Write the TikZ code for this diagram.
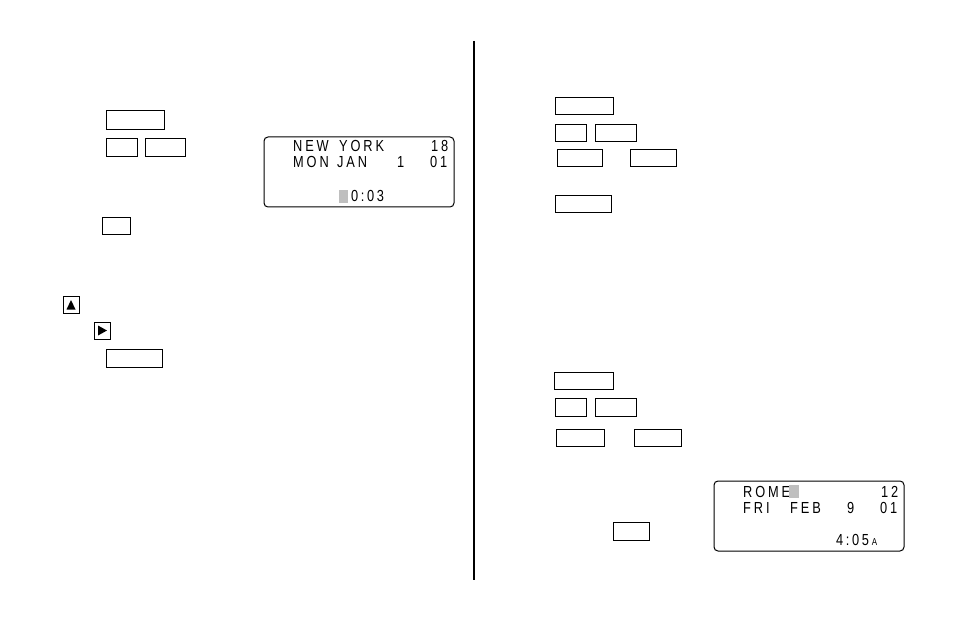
\documentclass[tikz,border=0pt]{standalone}
\usepackage{fontspec}
\setmainfont{Liberation Sans}[LetterSpace=18,FakeStretch=0.8]
\begin{document}
\begin{tikzpicture}[x=1pt,y=-1pt,
 key/.style={draw,line width=0.8pt},
 disp/.style={draw,line width=1pt,rounded corners=4pt},
 lcd/.style={anchor=base west,inner sep=0pt,font=\fontsize{16}{16}\selectfont},
 cur/.style={fill=black!25}]
\useasboundingbox (0,0) rectangle (954,623);
\draw[line width=2pt] (474,41) -- (474,580);
% left keys
\draw[key] (106,110) rectangle (164,129);
\draw[key] (106,138) rectangle (137,156);
\draw[key] (145,138) rectangle (185,156);
\draw[key] (102,217) rectangle (130,234);
\draw[key] (63,296) rectangle (79,313);
\fill (66.5,309.5) -- (75.5,309.5) -- (71,300) -- cycle;
\draw[key] (94,322) rectangle (110,339);
\fill (98,325.5) -- (98,335.5) -- (107,330.5) -- cycle;
\draw[key] (106,349) rectangle (162,367);
% display 1
\draw[disp] (264,137) rectangle (454,207);
\node[lcd] (a1) at (293,152) {NEW};
\node[lcd] (a2) at (339,152) {YORK};
\node[lcd] (a3) at (431,152) {18};
\node[lcd] (a4) at (293,168) {MON};
\node[lcd] (a5) at (337,168) {JAN};
\node[lcd] (a6) at (397,168) {1};
\node[lcd] (a7) at (430,168) {01};
\fill[cur] (339,190) rectangle (348,203);
\node[lcd] (a8) at (351,201) {0\,:\,0\,3};
% right keys
\draw[key] (555,97) rectangle (613,114);
\draw[key] (555,124) rectangle (586,141);
\draw[key] (595,124) rectangle (636,141);
\draw[key] (557,149) rectangle (602,166);
\draw[key] (630,149) rectangle (676,166);
\draw[key] (555,195) rectangle (611,212);
\draw[key] (554,372) rectangle (613,389);
\draw[key] (555,398) rectangle (586,416);
\draw[key] (595,398) rectangle (636,416);
\draw[key] (556,429) rectangle (604,446);
\draw[key] (634,429) rectangle (681,446);
\draw[key] (613,522) rectangle (649,540);
% display 2
\draw[disp] (714,481) rectangle (904,551);
\node[lcd] (b1) at (743,497) {ROME};
\fill[cur] (789,485) rectangle (799,498);
\node[lcd] (b2) at (881,497) {12};
\node[lcd] (b3) at (743,513) {FRI};
\node[lcd] (b4) at (790,513) {FEB};
\node[lcd] (b5) at (847,513) {9};
\node[lcd] (b6) at (880,513) {01};
\node[lcd] (b7) at (836,545) {4\,:\,0\,5\,\fontsize{10}{10}\selectfont A};
\end{tikzpicture}
\end{document}
